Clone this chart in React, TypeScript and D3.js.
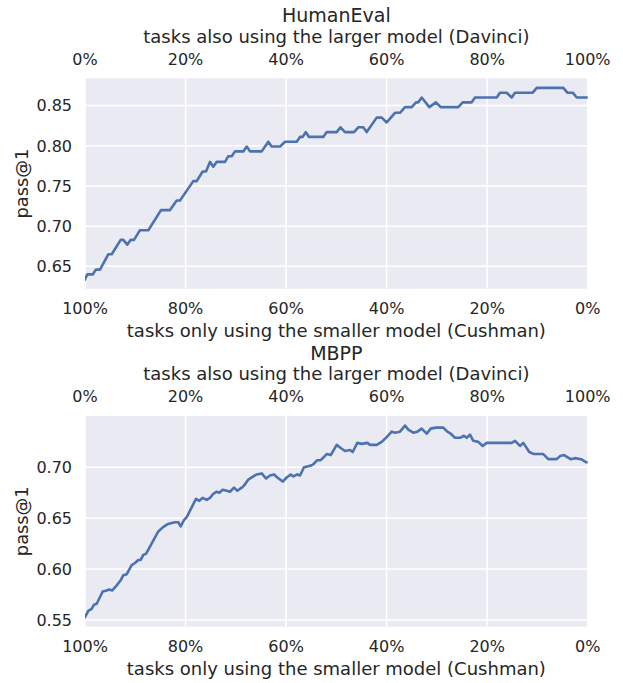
import React from "react";
import * as d3 from "d3";

// ---- Data ----
const xTickValues = [0, 20, 40, 60, 80, 100];
const topTickLabels = ["0%", "20%", "40%", "60%", "80%", "100%"];
const bottomTickLabels = ["100%", "80%", "60%", "40%", "20%", "0%"];

const humanEvalYTicks = [0.65, 0.7, 0.75, 0.8, 0.85];
const mbppYTicks = [0.55, 0.6, 0.65, 0.7];

// % of tasks also using the larger model (Davinci)
const humanEvalFrac = [
  0, 0.46, 1.53, 2.19, 2.98, 4.63, 5.31, 7.1, 7.62, 8.41, 9.09, 9.75, 10.94, 12.59,
  15.12, 16.91, 18.24, 18.9, 21.54, 22.22, 23.41, 24.07, 24.87, 25.52, 26.2, 27.85,
  28.51, 29.18, 29.84, 31.49, 32.17, 32.82, 35.15, 36.46, 37.14, 38.79, 39.79, 42.11,
  42.77, 43.31, 43.9, 44.56, 47.4, 48.08, 50.07, 50.82, 51.72, 53.51, 54.37, 55.36,
  56.04, 58.03, 59.02, 60.02, 61.67, 62.66, 63.66, 64.99, 65.84, 66.3, 66.98, 68.49,
  69.82, 70.76, 74.26, 75.13, 76.92, 77.58, 81.9, 82.55, 83.89, 84.88, 85.54, 89.06,
  89.86, 95.15, 95.94, 97.02, 97.81, 100,
];
const humanEvalPass = [
  0.634, 0.64, 0.64, 0.646, 0.646, 0.665, 0.665, 0.683, 0.683, 0.677, 0.683, 0.683,
  0.695, 0.695, 0.72, 0.72, 0.732, 0.732, 0.756, 0.756, 0.768, 0.768, 0.78, 0.774,
  0.78, 0.78, 0.787, 0.787, 0.793, 0.793, 0.799, 0.793, 0.793, 0.805, 0.799, 0.799,
  0.805, 0.805, 0.811, 0.811, 0.817, 0.811, 0.811, 0.817, 0.817, 0.823, 0.817, 0.817,
  0.823, 0.823, 0.817, 0.835, 0.835, 0.829, 0.841, 0.841, 0.848, 0.848, 0.854, 0.854,
  0.86, 0.848, 0.854, 0.848, 0.848, 0.854, 0.854, 0.86, 0.86, 0.866, 0.866, 0.86,
  0.866, 0.866, 0.872, 0.872, 0.866, 0.866, 0.86, 0.86,
];

const mbppFrac = [
  0, 0.66, 1.33, 1.79, 2.33, 3.52, 4.32, 4.83, 5.43, 6.31, 7.1, 7.62, 8.3, 9.29, 9.95,
  10.6, 11.08, 11.6, 12.13, 12.93, 14.58, 15.46, 16.37, 17.05, 17.9, 18.56, 19.04,
  19.69, 20.23, 22.08, 22.74, 23.41, 24.21, 24.87, 25.52, 26.2, 26.72, 27.39, 28.19,
  28.84, 29.64, 30.3, 31.17, 31.63, 32.49, 33.16, 34.16, 35.15, 36.01, 36.8, 37.6,
  38.25, 39.33, 40.12, 40.92, 41.44, 42.23, 42.77, 43.56, 44.42, 45.1, 45.42, 46.21,
  46.89, 48.08, 48.88, 50.07, 50.87, 51.72, 52.72, 53.25, 54.17, 55.04, 56.16, 56.69,
  58.03, 59.02, 59.68, 61.01, 61.67, 62.66, 63.66, 64.31, 65.31, 66.1, 66.98, 67.97,
  68.77, 69.82, 71.28, 72.07, 72.75, 73.6, 74.6, 75.39, 75.93, 76.59, 77.24, 78.24,
  79.11, 79.91, 84.88, 85.54, 86.53, 87.19, 88.38, 89.32, 91.17, 92.16, 93.83, 94.49,
  95.29, 95.94, 96.62, 97.47, 98.67, 99.66, 100,
];
const mbppPass = [
  0.553, 0.559, 0.561, 0.565, 0.566, 0.578, 0.579, 0.58, 0.579, 0.584, 0.589, 0.594,
  0.595, 0.604, 0.606, 0.609, 0.609, 0.614, 0.615, 0.622, 0.637, 0.641, 0.644, 0.645,
  0.646, 0.646, 0.642, 0.648, 0.651, 0.669, 0.667, 0.67, 0.668, 0.67, 0.674, 0.676,
  0.675, 0.678, 0.677, 0.676, 0.68, 0.677, 0.68, 0.682, 0.688, 0.69, 0.693, 0.694,
  0.689, 0.692, 0.693, 0.69, 0.686, 0.69, 0.693, 0.691, 0.693, 0.692, 0.7, 0.701,
  0.702, 0.703, 0.707, 0.707, 0.713, 0.712, 0.722, 0.719, 0.716, 0.717, 0.715, 0.724,
  0.723, 0.724, 0.722, 0.722, 0.725, 0.728, 0.735, 0.734, 0.735, 0.741, 0.737, 0.734,
  0.735, 0.738, 0.733, 0.738, 0.739, 0.739, 0.735, 0.733, 0.729, 0.729, 0.731, 0.729,
  0.732, 0.726, 0.725, 0.721, 0.724, 0.724, 0.726, 0.721, 0.724, 0.715, 0.713, 0.713,
  0.708, 0.708, 0.711, 0.712, 0.71, 0.708, 0.709, 0.708, 0.705, 0.705,
];

// ---- Styling ----
const FONT = "'DejaVu Sans', sans-serif";
const TEXT = "#262626";
const BG = "#EAEAF2";
const LINE = "#4C72B0";

type PanelProps = {
  id: string;
  title: string;
  top: number;
  xs: number[];
  ys: number[];
  yTicks: number[];
};

const LEFT = 85;
const RIGHT = 587.7;
const HEIGHT = 210.5;

function Panel({ id, title, top, xs, ys, yTicks }: PanelProps) {
  const bottom = top + HEIGHT;
  const x = d3.scaleLinear().domain([0, 100]).range([LEFT, RIGHT]);
  const [mn, mx] = d3.extent(ys) as [number, number];
  const pad = (mx - mn) * 0.05;
  const y = d3.scaleLinear().domain([mn - pad, mx + pad]).range([bottom, top]);
  const line = d3
    .line<number>()
    .x((_, i) => x(xs[i]))
    .y((d) => y(d));
  const fmt = d3.format(".2f");
  const cx = (LEFT + RIGHT) / 2;

  return (
    <g>
      <defs>
        <clipPath id={`clip-${id}`}>
          <rect x={LEFT} y={top} width={RIGHT - LEFT} height={HEIGHT} />
        </clipPath>
      </defs>
      <rect x={LEFT} y={top} width={RIGHT - LEFT} height={HEIGHT} fill={BG} />
      {xTickValues.map((v) => (
        <line
          key={`gx${v}`}
          x1={x(v)}
          x2={x(v)}
          y1={top}
          y2={bottom}
          stroke="#fff"
          strokeWidth={1.5}
        />
      ))}
      {yTicks.map((v) => (
        <line
          key={`gy${v}`}
          x1={LEFT}
          x2={RIGHT}
          y1={y(v)}
          y2={y(v)}
          stroke="#fff"
          strokeWidth={1.5}
        />
      ))}
      <path
        d={line(ys) || ""}
        fill="none"
        stroke={LINE}
        strokeWidth={2.6}
        strokeLinejoin="round"
        strokeLinecap="square"
        clipPath={`url(#clip-${id})`}
      />
      {/* y tick labels */}
      {yTicks.map((v) => (
        <text
          key={`ty${v}`}
          x={72}
          y={y(v)}
          dy="0.36em"
          textAnchor="end"
          fontSize={16}
          fill={TEXT}
        >
          {fmt(v)}
        </text>
      ))}
      <text
        transform={`translate(27.5,${(top + bottom) / 2}) rotate(-90)`}
        textAnchor="middle"
        fontSize={17.8}
        fill={TEXT}
      >
        pass@1
      </text>
      {/* top axis */}
      {xTickValues.map((v, i) => (
        <text
          key={`tt${v}`}
          x={x(v)}
          y={top - 13.6}
          textAnchor="middle"
          fontSize={16}
          fill={TEXT}
        >
          {topTickLabels[i]}
        </text>
      ))}
      <text x={cx} y={top - 35.8} textAnchor="middle" fontSize={18} fill={TEXT}>
        tasks also using the larger model (Davinci)
      </text>
      <text x={cx} y={top - 56} textAnchor="middle" fontSize={19} fill={TEXT}>
        {title}
      </text>
      {/* bottom axis */}
      {xTickValues.map((v, i) => (
        <text
          key={`tb${v}`}
          x={x(v)}
          y={bottom + 25.5}
          textAnchor="middle"
          fontSize={16}
          fill={TEXT}
        >
          {bottomTickLabels[i]}
        </text>
      ))}
      <text x={cx} y={bottom + 48} textAnchor="middle" fontSize={18} fill={TEXT}>
        tasks only using the smaller model (Cushman)
      </text>
    </g>
  );
}

export default function App() {
  return (
    <svg
      width={623}
      height={683}
      viewBox="0 0 623 683"
      style={{ position: "absolute", left: 0, top: 0, background: "#fff", fontFamily: FONT }}
    >
      <rect x={0} y={0} width={623} height={683} fill="#fff" />
      <Panel
        id="he"
        title="HumanEval"
        top={78.3}
        xs={humanEvalFrac}
        ys={humanEvalPass}
        yTicks={humanEvalYTicks}
      />
      <Panel
        id="mbpp"
        title="MBPP"
        top={416}
        xs={mbppFrac}
        ys={mbppPass}
        yTicks={mbppYTicks}
      />
    </svg>
  );
}
